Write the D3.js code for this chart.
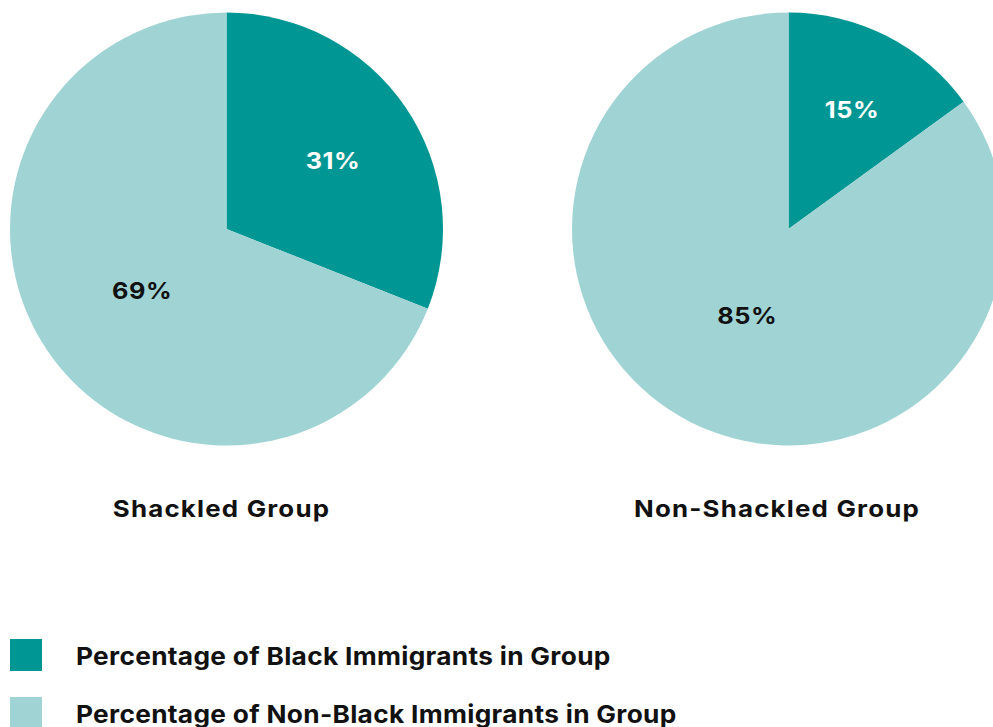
<!DOCTYPE html>
<html>
<head>
<meta charset="utf-8">
<script src="https://cdn.jsdelivr.net/npm/d3@7"></script>
<style>
  html, body { margin: 0; padding: 0; background: #ffffff; }
  svg { display: block; }
  text { font-family: Inter, "DejaVu Sans", sans-serif; }
</style>
</head>
<body>
<svg id="chart" width="993" height="727"></svg>
<script>
// Groups shown as side-by-side pies
const groups = ["Shackled Group", "Non-Shackled Group"];
// Share of Black immigrants in each group (%)
const blackShare = [31, 15];
// Share of non-Black immigrants in each group (%)
const nonBlackShare = [69, 85];
// Legend entries, in slice order
const seriesLabels = [
  "Percentage of Black Immigrants in Group",
  "Percentage of Non-Black Immigrants in Group"
];

const W = 993, H = 727;
const svg = d3.select("#chart");

// Slightly widened lettering for a broad geometric look
const WIDEN = 1.1;

const color = d3.scaleOrdinal()
  .domain(seriesLabels)
  .range(["#009694", "#a0d4d4"]);
const labelColor = d3.scaleOrdinal()
  .domain(seriesLabels)
  .range(["#ffffff", "#111111"]);

const R = 216.5;
const cx = d3.scalePoint().domain(groups).range([226.5, 788.5]);
const cy = 229;

const pie = d3.pie().sort(null).value(d => d.value);
const arc = d3.arc().innerRadius(0).outerRadius(R);

groups.forEach((g, i) => {
  const data = [
    { key: seriesLabels[0], value: blackShare[i] },
    { key: seriesLabels[1], value: nonBlackShare[i] }
  ];
  const total = d3.sum(data, d => d.value);
  const slices = pie(data);
  const gp = svg.append("g").attr("transform", `translate(${cx(g)},${cy})`);

  gp.selectAll("path.slice")
    .data(slices)
    .join("path")
    .attr("class", "slice")
    .attr("d", arc)
    .attr("fill", d => color(d.data.key));

  // Labels sit nearer the rim for thin slices, nearer the centre for wide ones
  gp.selectAll("text.pct")
    .data(slices)
    .join("text")
    .attr("class", "pct")
    .attr("transform", d => {
      const f = d.data.value / total;
      const lr = R * (0.68 - 0.294 * f);
      const c = d3.arc().innerRadius(lr).outerRadius(lr).centroid(d);
      return `translate(${c[0] + 1},${c[1] + 4}) scale(${WIDEN},1)`;
    })
    .attr("text-anchor", "middle")
    .attr("dy", "0.35em")
    .attr("font-size", 23)
    .attr("font-weight", 700)
    .attr("letter-spacing", "0.5px")
    .attr("fill", d => labelColor(d.data.key))
    .text(d => d.data.value + "%");

  // Group title under each pie
  svg.append("text")
    .attr("transform", `translate(${cx(g) - (i === 0 ? 5 : 11.5)},517) scale(${WIDEN},1)`)
    .attr("text-anchor", "middle")
    .attr("font-size", 23.5)
    .attr("font-weight", 700)
    .attr("letter-spacing", "1.1px")
    .attr("fill", "#111111")
    .text(g);
});

// Legend
const legend = svg.append("g");
seriesLabels.forEach((s, i) => {
  const y0 = 639 + i * 58;
  legend.append("rect")
    .attr("x", 10).attr("y", y0)
    .attr("width", 32).attr("height", 32)
    .attr("fill", color(s));
  legend.append("text")
    .attr("transform", `translate(76,${y0 + 26.2}) scale(1.08,1)`)
    .attr("font-size", 24.3)
    .attr("font-weight", 700)
    .attr("letter-spacing", "0.3px")
    .attr("fill", "#111111")
    .text(s);
});
</script>
</body>
</html>
